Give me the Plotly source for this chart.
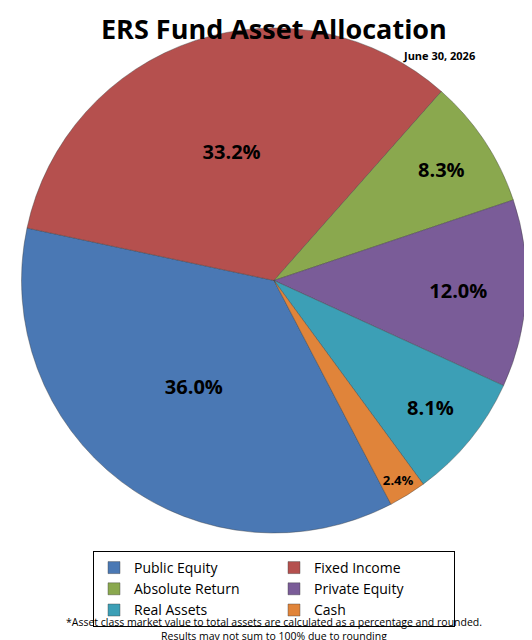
import plotly.graph_objects as go

labels = ["Public Equity", "Fixed Income", "Absolute Return", "Private Equity", "Real Assets", "Cash"]
values = [36.0, 33.2, 8.3, 12.0, 8.1, 2.4]
colors = ["#4a78b4", "#b5504e", "#8aa84e", "#7a5c98", "#3c9fb6", "#e0843a"]

fig = go.Figure(go.Pie(
    labels=labels, values=values, sort=False, direction="clockwise", rotation=152.4,
    marker=dict(colors=colors, line=dict(color="rgba(60,60,60,0.5)", width=0.8)),
    texttemplate="<b>%{value:.1f}%</b>", textposition="inside", insidetextorientation="horizontal",
    textfont=dict(size=20, color="black", family="Open Sans"),
    domain=dict(x=[5/532, 527/532], y=[1-525/640, 1-20/640]),
    hoverinfo="label+value",
))
fig.update_layout(
    width=532, height=640, margin=dict(l=0, r=0, t=0, b=0),
    paper_bgcolor="white", font=dict(family="Open Sans", color="black"),
    showlegend=True,
    legend=dict(orientation="h", x=0.5, xanchor="center", y=1-543/640, yanchor="top",
                bordercolor="black", borderwidth=1, entrywidth=135,
                font=dict(size=14), itemclick=False, tracegroupgap=0),
    annotations=[
        dict(text="<b>ERS Fund Asset Allocation</b>", x=0.5, y=1.0, xref="paper", yref="paper",
             xanchor="center", yanchor="top", showarrow=False, font=dict(size=27)),
        dict(text="<b>June 30, 2026</b>", x=0.81, y=1-47/640, xref="paper", yref="paper",
             xanchor="center", yanchor="middle", showarrow=False, font=dict(size=11)),
        dict(text="*Asset class market value to total assets are calculated as a percentage and rounded.<br>Results may not sum to 100% due to rounding",
             x=0.5, y=1-621/640, xref="paper", yref="paper", xanchor="center", yanchor="middle",
             showarrow=False, font=dict(size=10.5)),
    ],
)
fig.write_html("out.html")
